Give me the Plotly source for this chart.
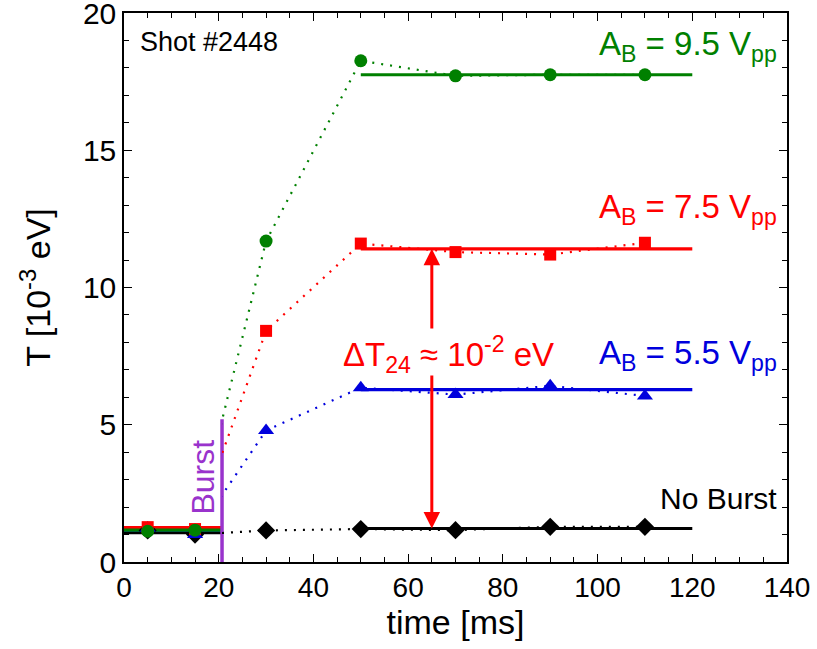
import plotly.graph_objects as go

# Electron temperature vs time for shot #2448, three burst amplitudes + reference
time_ms = [5, 15, 30, 50, 70, 90, 110]
T_noburst = [1.15, 1.0, 1.15, 1.2, 1.16, 1.28, 1.28]
T_5p5 = [1.23, 1.0, 4.79, 6.35, 6.1, 6.42, 6.05]
T_7p5 = [1.27, 1.2, 8.42, 11.6, 11.29, 11.2, 11.63]
T_9p5 = [1.12, 1.16, 11.69, 18.26, 17.71, 17.75, 17.75]

# Flat fits before the burst and on the plateau
pre_fit_x = [0, 20.7]
pre_noburst, pre_5p5, pre_7p5, pre_9p5 = 1.07, 1.15, 1.25, 1.16
plateau_x = [50, 120]
plat_noburst, plat_5p5, plat_7p5, plat_9p5 = 1.22, 6.28, 11.41, 17.75

burst_time = 20.7
burst_top = 5.2

XMAX = 140
FONT = "Liberation Sans"

series = [
    ("No Burst", T_noburst, pre_noburst, plat_noburst, "black", "diamond", 14),
    ("5.5", T_5p5, pre_5p5, plat_5p5, "#0000dd", "triangle-up", 14),
    ("7.5", T_7p5, pre_7p5, plat_7p5, "#ff0000", "square", 12),
    ("9.5", T_9p5, pre_9p5, plat_9p5, "#008000", "circle", 13),
]

fig = go.Figure()

# dotted connectors start at the burst: drawn on a second x axis whose
# domain begins at the burst time, so the segment before it is clipped
for name, ys, pre, plat, col, sym, sz in series:
    fig.add_trace(go.Scatter(
        x=time_ms[1:], y=ys[1:], mode="lines", xaxis="x2", yaxis="y",
        line=dict(color=col, width=2.2, dash="2px,7px"),
        showlegend=False, hoverinfo="skip"))

for name, ys, pre, plat, col, sym, sz in series:
    fig.add_trace(go.Scatter(
        x=plateau_x, y=[plat, plat], mode="lines",
        line=dict(color=col, width=3.2), showlegend=False))
    fig.add_trace(go.Scatter(
        x=pre_fit_x, y=[pre, pre], mode="lines",
        line=dict(color=col, width=3.2), showlegend=False))

for name, ys, pre, plat, col, sym, sz in series:
    fig.add_trace(go.Scatter(
        x=time_ms, y=ys, mode="markers",
        marker=dict(symbol=sym, size=sz, color=col, line=dict(width=0)),
        showlegend=False))

# burst marker
fig.add_trace(go.Scatter(
    x=[burst_time, burst_time], y=[0, burst_top], mode="lines",
    line=dict(color="#9933cc", width=3.5), showlegend=False))

annotations = [
    dict(x=2.9, y=18.95, text="Shot #2448", xanchor="left", yanchor="middle",
         font=dict(size=27, color="black", family=FONT)),
    dict(x=138.4, y=18.8, text="A<sub>B</sub> = 9.5 V<sub>pp</sub>",
         xanchor="right", yanchor="middle",
         font=dict(size=33, color="#008000", family=FONT)),
    dict(x=138.4, y=12.85, text="A<sub>B</sub> = 7.5 V<sub>pp</sub>",
         xanchor="right", yanchor="middle",
         font=dict(size=33, color="#ff0000", family=FONT)),
    dict(x=138.4, y=7.55, text="A<sub>B</sub> = 5.5 V<sub>pp</sub>",
         xanchor="right", yanchor="middle",
         font=dict(size=33, color="#0000dd", family=FONT)),
    dict(x=138.4, y=2.3, text="No Burst", xanchor="right", yanchor="middle",
         font=dict(size=30, color="black", family=FONT)),
    dict(x=16.6, y=3.1, text="Burst", textangle=-90,
         xanchor="center", yanchor="middle",
         font=dict(size=32, color="#9933cc", family=FONT)),
    dict(x=68.6, y=7.55, text="ΔT<sub>24</sub> ≈ 10<sup>-2</sup> eV",
         xanchor="center", yanchor="middle",
         font=dict(size=33, color="#ff0000", family=FONT)),
]
for annotation in annotations:
    annotation.update(xref="x", yref="y", showarrow=False)

# double arrow for the temperature gap between 7.5 Vpp and no burst
dT_x = 65
for y_from, y_to in [(8.45, plat_7p5), (6.85, plat_noburst)]:
    annotations.append(dict(
        x=dT_x, y=y_to, ax=dT_x, ay=y_from, xref="x", yref="y",
        axref="x", ayref="y", text="", showarrow=True,
        arrowhead=2, arrowsize=1.1, arrowwidth=3, arrowcolor="#ff0000"))

axis_common = dict(
    showline=True, linecolor="black", linewidth=1.5, mirror="ticks",
    ticks="inside", ticklen=8, tickwidth=1.2, tickcolor="black",
    showgrid=False, zeroline=False, ticklabeloverflow="allow",
    automargin=False,
)

fig.update_layout(
    width=817, height=649,
    margin=dict(l=124, r=30, t=13, b=87, autoexpand=False),
    paper_bgcolor="white", plot_bgcolor="rgba(0,0,0,0)",
    annotations=annotations,
    xaxis=dict(
        range=[0, XMAX], domain=[0, 1], tick0=0, dtick=20,
        minor=dict(dtick=5, ticks="inside", ticklen=5, tickcolor="black"),
        tickfont=dict(size=28, family=FONT, color="black"),
        title=dict(text="time [ms]", standoff=6,
                   font=dict(size=34, family=FONT, color="black")),
        **axis_common),
    xaxis2=dict(
        range=[burst_time, XMAX], domain=[burst_time / XMAX, 1],
        anchor="y", visible=False, showgrid=False, zeroline=False),
    yaxis=dict(
        range=[0, 20], domain=[0, 1], tick0=0, dtick=5,
        minor=dict(dtick=1, ticks="inside", ticklen=5, tickcolor="black"),
        tickfont=dict(size=30, family=FONT, color="black"),
        title=dict(text="T [10<sup>-3</sup> eV]", standoff=22,
                   font=dict(size=34, family=FONT, color="black")),
        **axis_common),
    showlegend=False,
)

fig.write_html("out.html")
